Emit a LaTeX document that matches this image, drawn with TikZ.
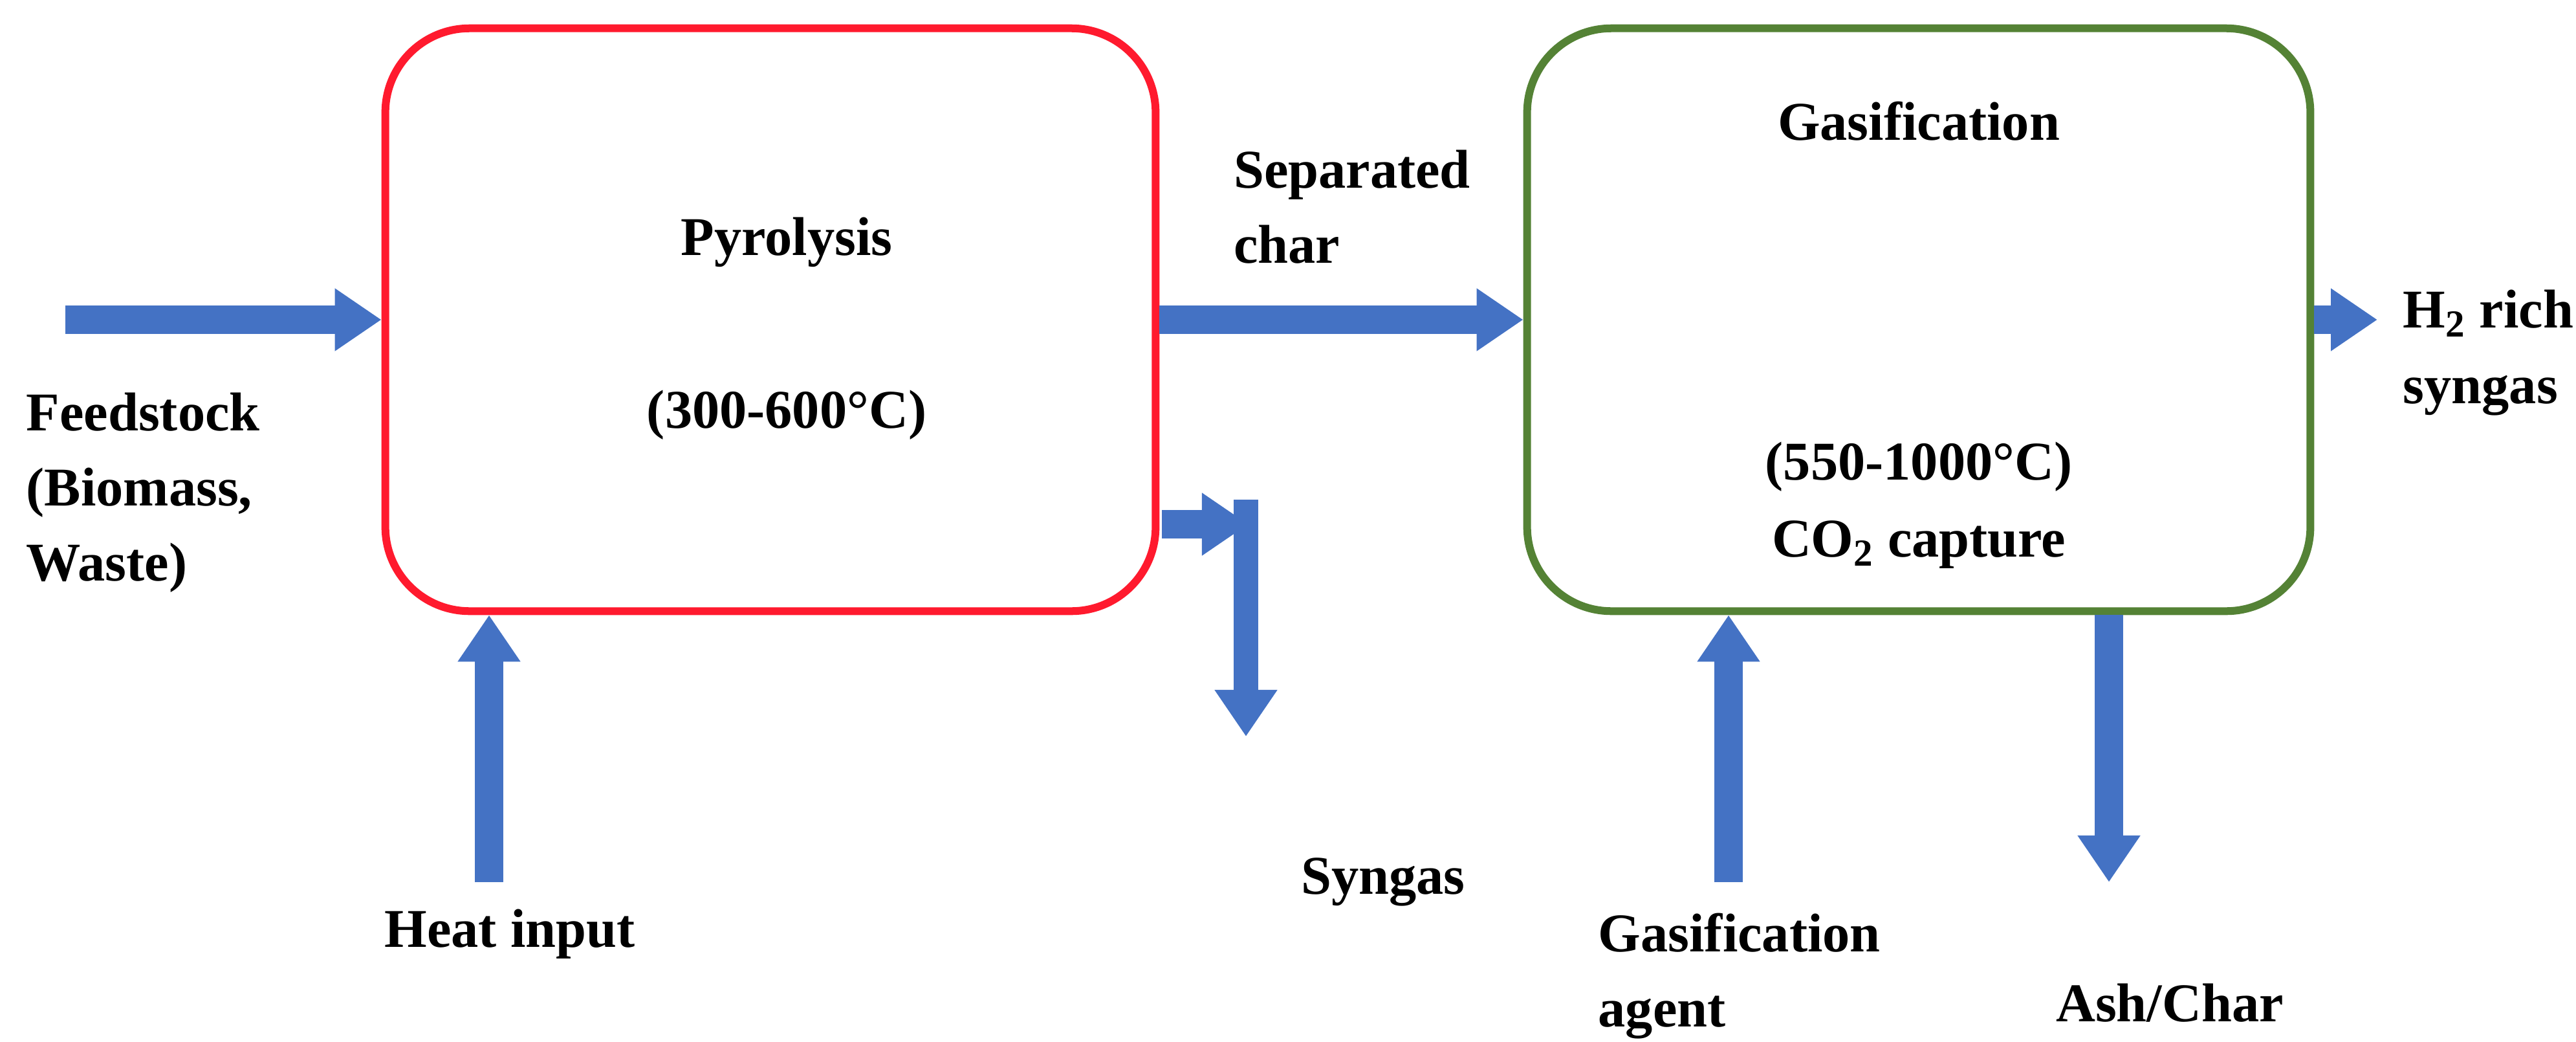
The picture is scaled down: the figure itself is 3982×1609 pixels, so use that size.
\documentclass[tikz,border=0pt]{standalone}
\usepackage{fontspec}
\setmainfont{Liberation Serif}
\usetikzlibrary{arrows.meta}
\definecolor{arrblue}{HTML}{4472C4}
\definecolor{boxred}{HTML}{FF1A2E}
\definecolor{boxgreen}{HTML}{548235}
\begin{document}
\begin{tikzpicture}[x=0.01cm,y=-0.01cm,
  lbl/.style={font=\fontsize{24}{33}\selectfont\bfseries,inner sep=0pt},
  proc/.style={draw,line width=0.12cm,rounded corners=1.3cm,minimum width=11.9cm,minimum height=9.0cm},
  flow/.style={draw=arrblue,line width=0.44cm,-{Triangle[width=0.92cm,length=0.72cm]},arrblue}]
\useasboundingbox (0,0) rectangle (3982,1609);
\node[proc,draw=boxred] (pyr) at (1191,494) {};
\node[proc,draw=boxgreen,minimum width=12.1cm] (gas) at (2966,494) {};
\node[lbl] (tpyr) at (1216,374) {Pyrolysis};
\node[lbl] (tpyrt) at (1216,641) {(300-600°C)};
\node[lbl] (tgas) at (2966,187) {Gasification};
\node[lbl] (tgast) at (2966,721) {(550-1000°C)};
\node[lbl] (tco) at (2966,842) {CO\textsubscript{2} capture};
\node[lbl,align=left,anchor=west] (feed) at (40,761) {Feedstock\\(Biomass,\\Waste)};
\node[lbl,align=left] (sep) at (2090,320) {Separated\\char};
\node[lbl] (heat) at (788,1443) {Heat input};
\node[lbl] (syn) at (2138,1363) {Syngas};
\node[lbl,align=left,anchor=west] (agent) at (2470,1508) {Gasification\\agent};
\node[lbl] (ash) at (3354,1550) {Ash/Char};
\node[lbl,align=left,anchor=west] (h2) at (3714,545) {H\textsubscript{2} rich\\syngas};
\coordinate (fin) at (101,494);
\coordinate (hin) at (756,1363);
\coordinate (ain) at (2672,1363);
\coordinate (aout) at (3260,1363);
\coordinate (hout) at (3675,494);
\coordinate (sa) at (1796,810);
\coordinate (sb) at (1930,810);
\coordinate (sc) at (1926,772);
\coordinate (sd) at (1926,1138);
\draw[flow] (fin) -- (fin -| pyr.west);
\draw[flow] (fin -| pyr.east) -- (fin -| gas.west);
\draw[flow] (fin -| gas.east) -- (hout);
\draw[flow] (hin) -- (hin |- pyr.south);
\draw[flow] (ain) -- (ain |- gas.south);
\draw[flow] (aout |- gas.south) -- (aout);
\draw[flow] (sa) -- (sb);
\draw[flow,line width=0.38cm] (sc) -- (sd);
\end{tikzpicture}
\end{document}
